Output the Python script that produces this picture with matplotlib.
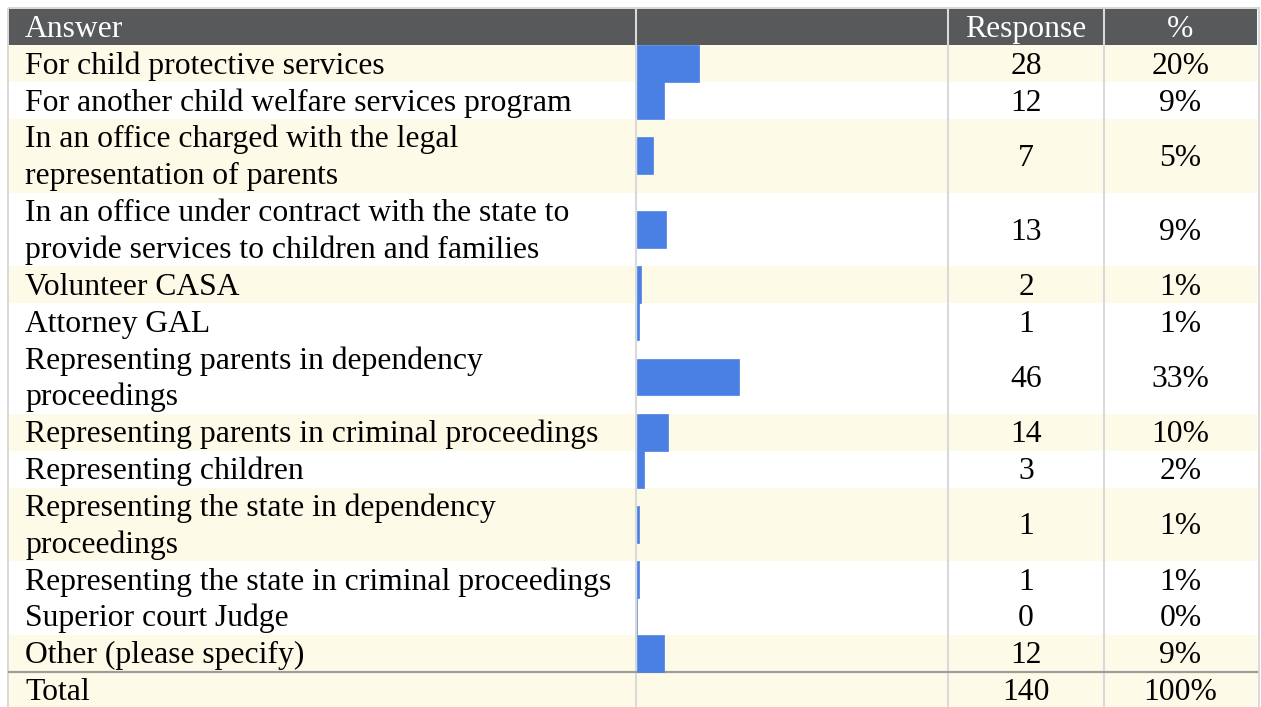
import matplotlib.pyplot as plt
from matplotlib.patches import Rectangle

# survey answers (line breaks as wrapped in the table)
answers = [
    "For child protective services",
    "For another child welfare services program",
    "In an office charged with the legal\nrepresentation of parents",
    "In an office under contract with the state to\nprovide services to children and families",
    "Volunteer CASA",
    "Attorney GAL",
    "Representing parents in dependency\nproceedings",
    "Representing parents in criminal proceedings",
    "Representing children",
    "Representing the state in dependency\nproceedings",
    "Representing the state in criminal proceedings",
    "Superior court Judge",
    "Other (please specify)",
]
responses = [28, 12, 7, 13, 2, 1, 46, 14, 3, 1, 1, 0, 12]
percents = ["20%", "9%", "5%", "9%", "1%", "1%", "33%", "10%", "2%",
            "1%", "1%", "0%", "9%"]
total_label = "Total"
total_response = 140
total_percent = "100%"
headers = ["Answer", "", "Response", "%"]

# row shading as in the original (cream / white)
shaded = [1, 0, 1, 0, 1, 0, 0, 1, 0, 1, 0, 0, 1]

HEADER_BG = "#58595b"
CREAM = "#fdfbe8"
BAR = "#4a80e4"
GRID = "#d9d9d9"
SEP = "#9c9c9c"
FONT = "Liberation Serif"
FS = 22.8
BASE = 10  # baseline offset below the line centre, px

W, H = 1261, 707
LEFT, C1, C2, C3, RIGHT = 9, 636, 948, 1104, 1257
TOP, HEAD_B = 9, 45.3
LINE_H = 36.85

fig = plt.figure(figsize=(W / 100, H / 100), dpi=100)
ax = fig.add_axes([0, 0, 1, 1])
ax.set_xlim(0, W)
ax.set_ylim(H, 0)
ax.axis("off")

# outer frame
ax.add_patch(Rectangle((LEFT - 1.5, TOP - 1.5), RIGHT - LEFT + 3, H,
                       facecolor="none", edgecolor=GRID, lw=1.5))
# header
ax.add_patch(Rectangle((LEFT, TOP), RIGHT - LEFT, HEAD_B - TOP,
                       facecolor=HEADER_BG, edgecolor="none"))
hy = (TOP + HEAD_B) / 2 + BASE
ax.text(25, hy, headers[0], color="white", fontsize=FS, family=FONT,
        va="baseline", ha="left")
ax.text((C2 + C3) / 2, hy, headers[2], color="white", fontsize=FS,
        family=FONT, va="baseline", ha="center")
ax.text((C3 + RIGHT) / 2, hy, headers[3], color="white", fontsize=FS,
        family=FONT, va="baseline", ha="center")


def draw_row(y0, label, resp, pct, shade):
    lines = label.split("\n")
    h = len(lines) * LINE_H
    ax.add_patch(Rectangle((LEFT, y0), RIGHT - LEFT, h,
                           facecolor=CREAM if shade else "white",
                           edgecolor="none"))
    for i, ln in enumerate(lines):
        ax.text(25, y0 + (i + 0.5) * LINE_H + BASE, ln, fontsize=FS,
                family=FONT, va="baseline", ha="left")
    cy = y0 + h / 2 + BASE
    ax.text((C2 + C3) / 2, cy, str(resp), fontsize=FS, family=FONT,
            va="baseline", ha="center")
    ax.text((C3 + RIGHT) / 2, cy, pct, fontsize=FS, family=FONT,
            va="baseline", ha="center")
    return h


centers = []
y = HEAD_B
for lab, r, p, s in zip(answers, responses, percents, shaded):
    h = draw_row(y, lab, r, p, s)
    centers.append(y + h / 2)
    y += h
sep_y = y
draw_row(y, total_label, total_response, total_percent, 1)

# column dividers and total separator
for xc in (C1, C2, C3):
    ax.plot([xc, xc], [TOP, H], color=GRID, lw=1.5, solid_capstyle="butt")
ax.plot([LEFT, RIGHT], [sep_y, sep_y], color=SEP, lw=1.6)

# bars, scaled so that the full column equals the total count
bax = fig.add_axes([(C1 + 1) / W, 0, (C2 - C1 - 1) / W, 1])
bax.set_xlim(0, total_response)
bax.set_ylim(H, 0)
bax.axis("off")
bax.patch.set_alpha(0)
bax.barh(centers, responses, height=LINE_H, color=BAR,
         edgecolor=BAR, lw=0.5)

fig.savefig("out.png", dpi=100)
